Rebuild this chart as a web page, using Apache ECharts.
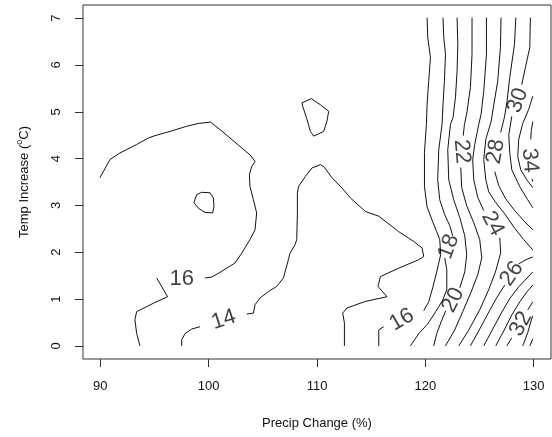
<!DOCTYPE html>
<html>
<head>
<meta charset="utf-8">
<script src="https://cdn.jsdelivr.net/npm/echarts@6/dist/echarts.min.js"></script>
<style>
  html, body { margin: 0; padding: 0; background: #ffffff; }
  #chart { width: 552px; height: 437px; }
</style>
</head>
<body>
<div id="chart"></div>
<script>
// Axis ticks
const xTicks = [90, 100, 110, 120, 130];
const yTicks = [0, 1, 2, 3, 4, 5, 6, 7];

// Contour polylines as [precip change %, temp increase °C].
// A level may be split into pieces where its label interrupts the line.
const c16WestA = [[89.96,3.59],[90.89,3.98],[91.81,4.12],[93.35,4.30],[94.43,4.44],[95.04,4.49],[96.43,4.58],[97.97,4.69],[99.05,4.75],[100.18,4.78],[101.04,4.62],[101.97,4.44],[102.89,4.26],[103.81,4.08],[104.28,3.94],[103.97,3.83],[103.76,3.66],[103.81,3.41],[104.13,3.12],[104.43,2.84],[104.28,2.48],[103.81,2.27],[103.05,1.98],[102.43,1.77],[101.66,1.66],[100.90,1.55],[100.28,1.47],[99.66,1.45]];
const c16WestB = [[95.20,1.45],[96.21,1.05],[94.89,0.91],[93.35,0.73],[93.19,0.56],[93.35,0.27],[93.66,0.0]];
const c16Loop = [[98.89,3.23],[99.35,3.28],[100.12,3.27],[100.43,3.16],[100.49,2.98],[100.37,2.84],[99.66,2.85],[99.05,2.94],[98.64,3.06],[98.89,3.23]];
const c14Loop = [[108.61,5.19],[109.48,5.28],[110.31,5.15],[111.08,5.01],[110.92,4.80],[110.62,4.58],[109.70,4.48],[109.39,4.58],[109.08,4.83],[108.68,5.12],[108.61,5.19]];
const c14A = [[97.51,0.0],[97.51,0.13],[97.81,0.26],[98.43,0.36],[99.20,0.41]];
const c14B = [[103.51,0.68],[104.13,0.70],[104.28,0.88],[104.74,1.02],[105.51,1.16],[106.28,1.27],[106.90,1.45],[107.36,1.84],[107.51,1.98],[107.97,2.16],[108.13,2.27],[108.19,2.84],[108.19,3.27],[108.31,3.41],[108.93,3.62],[109.54,3.80],[110.31,3.87],[110.62,3.83],[111.39,3.59],[112.31,3.37],[113.08,3.16],[114.47,2.87],[115.70,2.77],[117.54,2.44],[118.93,2.23],[119.70,2.09],[119.85,1.91],[119.39,1.84],[117.54,1.66],[115.85,1.48],[115.63,1.27],[116.46,1.05],[114.47,0.95],[112.77,0.81],[112.37,0.70],[112.53,0.49],[112.53,0.0]];
const c16EastA = [[120.16,7.01],[120.22,6.59],[120.47,6.16],[120.31,5.65],[120.16,5.15],[120.10,4.73],[119.92,4.13],[119.92,3.40],[120.16,2.97],[120.68,2.65],[121.05,2.44],[121.33,2.27],[121.42,1.95],[121.05,1.58],[120.68,1.24],[120.31,0.94],[119.85,0.75]];
const c16EastB = [[116.16,0.41],[115.70,0.34],[115.70,0.0]];
const c18A = [[121.63,7.01],[121.70,6.59],[121.86,6.22],[121.76,5.65],[121.63,5.15],[121.54,4.73],[121.24,4.19],[121.14,3.55],[121.33,3.12],[121.79,2.80],[122.25,2.57],[122.53,2.35]];
const c18B = [[121.79,1.88],[121.98,1.63],[121.98,1.20],[121.61,0.98],[120.96,0.73],[120.22,0.47],[119.39,0.26],[118.62,0.0]];
const c20A = [[122.93,7.01],[123.00,6.44],[122.93,5.86],[122.78,5.30],[122.56,4.88],[122.32,4.73],[122.07,4.19],[122.16,3.55],[122.62,3.12],[123.18,2.74],[123.64,2.35],[123.82,1.95],[123.64,1.58],[123.18,1.24]];
const c20B = [[121.88,0.75],[121.42,0.49],[121.05,0.26],[120.77,0.0]];
const c22A = [[124.31,7.01],[124.31,6.22],[124.16,5.52],[123.85,5.00],[123.61,4.73],[123.50,4.49]];
const c22B = [[123.27,3.81],[123.36,3.38],[123.82,2.99],[124.47,2.63],[125.02,2.27],[125.21,1.88],[124.84,1.52],[124.19,1.13],[123.45,0.73],[122.71,0.34],[121.86,0.0]];
const c24A = [[125.64,7.01],[125.64,6.22],[125.39,5.43],[125.14,4.94],[124.93,4.73],[124.56,4.30],[124.37,3.98],[124.47,3.55],[124.84,3.17],[125.39,2.89]];
const c24B = [[126.87,2.31],[126.96,1.99],[126.50,1.60],[125.85,1.20],[125.02,0.77],[124.01,0.34],[123.09,0.0]];
const c26A = [[126.99,7.01],[126.93,6.37],[126.68,5.65],[126.32,5.15],[126.07,4.79],[125.58,4.41],[125.39,3.98],[125.58,3.55],[125.85,3.29],[126.50,3.06],[127.33,2.82],[128.16,2.54],[129.08,2.27],[129.92,2.05]];
const c26B = [[124.16,0.0],[124.93,0.32],[125.76,0.68],[126.59,1.03],[127.33,1.30]];
const c26C = [[128.62,1.75],[129.27,1.84],[129.92,1.90]];
const c28A = [[128.35,7.01],[128.23,6.44],[127.79,5.73],[127.54,5.22],[127.30,4.88],[126.96,4.56]];
const c28B = [[126.41,3.72],[126.78,3.42],[127.42,3.14],[128.25,2.89],[129.18,2.65],[129.92,2.48]];
const c28C = [[125.39,0.0],[126.13,0.32],[126.96,0.68],[127.79,1.01],[128.62,1.26],[129.92,1.58]];
const c30A = [[129.70,7.01],[129.64,6.37],[129.24,5.95],[128.90,5.58]];
const c30B = [[127.98,4.90],[127.70,4.51],[127.79,4.13],[127.98,3.76],[128.72,3.40],[129.45,3.12],[129.92,2.95]];
const c30C = [[126.50,0.0],[127.24,0.32],[127.98,0.66],[128.72,0.94],[129.36,1.15],[129.92,1.30]];
const c32A = [[129.92,5.33],[129.54,5.05],[128.99,4.75],[128.62,4.41],[128.53,4.04],[128.81,3.76],[129.36,3.55],[129.92,3.38]];
const c32B = [[127.52,0.0],[127.98,0.17]];
const c32C = [[129.45,0.77],[129.92,0.94]];
const c34A = [[129.92,4.79],[129.78,4.60],[129.73,4.41]];
const c34B = [[129.83,3.57],[129.92,3.51]];
const c34C = [[128.99,0.0],[129.45,0.28],[129.73,0.51],[129.92,0.64]];
const c36 = [[129.64,0.0],[129.92,0.15]];

const contourPieces = [
  c16WestA, c16WestB, c16Loop, c14Loop, c14A, c14B, c16EastA, c16EastB,
  c18A, c18B, c20A, c20B, c22A, c22B, c24A, c24B, c26A, c26B, c26C,
  c28A, c28B, c28C, c30A, c30B, c30C, c32A, c32B, c32C, c34A, c34B, c34C, c36
];

// Contour labels: [precip, temp, level]
const labelSpots = [
  [97.51, 1.43, 16], [101.39, 0.56, 14], [117.82, 0.56, 16],
  [122.16, 2.12, 18], [122.56, 0.98, 20], [123.36, 4.15, 22],
  [126.22, 2.61, 24], [127.98, 1.54, 26], [126.50, 4.15, 28],
  [128.53, 5.24, 30], [128.81, 0.47, 32], [129.64, 3.96, 34]
];
// text angle of each label, degrees counter-clockwise
const labelAngles = [0, 18, 30, 70, 63, -85, -62, 55, 80, 70, 62, -85];

const chart = echarts.init(document.getElementById('chart'), null, { renderer: 'canvas' });

const lineSeries = contourPieces.map(pts => ({
  type: 'line',
  data: pts,
  symbol: 'none',
  smooth: false,
  silent: true,
  clip: true,
  lineStyle: { color: '#111', width: 1 }
}));

const labelSeries = {
  type: 'scatter',
  symbolSize: 0,
  silent: true,
  data: labelSpots.map((d, i) => ({
    value: d,
    label: { rotate: labelAngles[i] }
  })),
  label: {
    show: true,
    position: 'inside',
    formatter: p => String(p.value[2]),
    fontFamily: '"Liberation Sans Narrow", "Liberation Sans"',
    fontSize: 22,
    color: '#111'
  }
};

const axisFont = { fontFamily: 'Liberation Sans', fontSize: 13, color: '#111' };

chart.setOption({
  animation: false,
  backgroundColor: '#ffffff',
  grid: { left: 83, right: 1, top: 5, bottom: 78, show: true, borderColor: '#333', borderWidth: 1, backgroundColor: 'transparent' },
  xAxis: {
    type: 'value',
    min: 88.4, max: 131.6,
    axisLine: { show: false, onZero: false },
    splitLine: { show: false },
    axisTick: { show: true, length: 8, customValues: xTicks, lineStyle: { color: '#333' } },
    axisLabel: Object.assign({ customValues: xTicks, margin: 21 }, axisFont),
    name: 'Precip Change (%)',
    nameLocation: 'middle',
    nameGap: 58,
    nameTextStyle: axisFont
  },
  yAxis: {
    type: 'value',
    min: -0.28, max: 7.28,
    axisLine: { show: false, onZero: false },
    splitLine: { show: false },
    axisTick: { show: true, length: 8, customValues: yTicks, lineStyle: { color: '#333' } },
    axisLabel: Object.assign({ customValues: yTicks, margin: 20, rotate: 90 }, axisFont)
  },
  graphic: [{
    type: 'text',
    x: 24, y: 182,
    rotation: Math.PI / 2,
    style: {
      text: '{a|Temp Increase (}{s|o}{a|C)}',
      align: 'center',
      verticalAlign: 'middle',
      rich: {
        a: { fontFamily: 'Liberation Sans', fontSize: 13, fill: '#111' },
        s: { fontFamily: 'Liberation Sans', fontSize: 9, fill: '#111', verticalAlign: 'top', padding: [0, 0, 8, 0] }
      }
    }
  }],
  series: lineSeries.concat([labelSeries])
});
</script>
</body>
</html>
